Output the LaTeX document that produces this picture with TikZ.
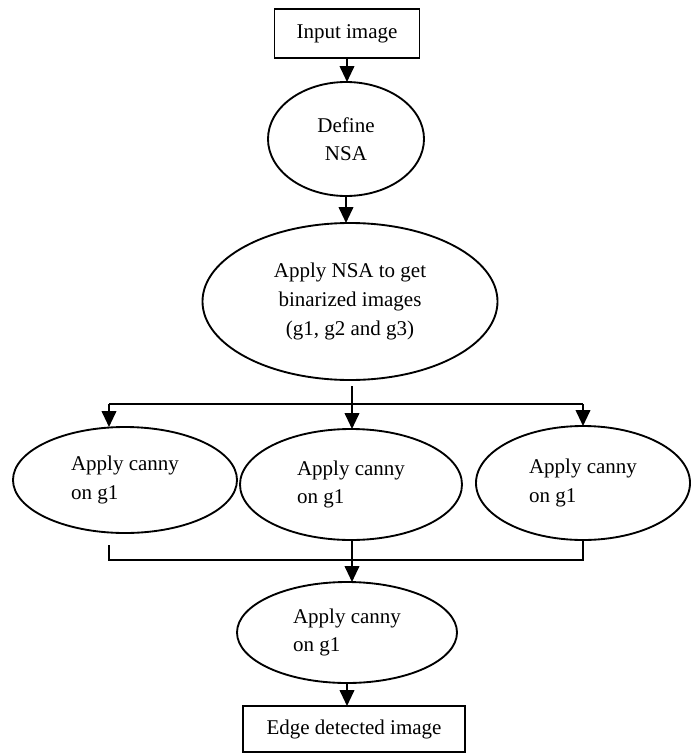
\documentclass[tikz,border=0pt]{standalone}
\usepackage{fontspec}
\setmainfont{Liberation Serif}
\usetikzlibrary{shapes.geometric,arrows.meta}
\begin{document}
\begin{tikzpicture}[x=0.75pt,y=-0.75pt,
  every node/.style={font=\fontsize{15.75pt}{21.4pt}\selectfont, inner sep=0pt, outer sep=0pt},
  box/.style={draw, line width=1.4pt, rectangle},
  oval/.style={draw, line width=1.4pt, ellipse},
  conn/.style={line width=1.4pt},
  arr/.style={conn, -{Triangle[width=11pt,length=12pt]}}]
\useasboundingbox (0,0) rectangle (693,753);
\fill[white] (0,0) rectangle (693,753);
% nodes
\node[box, minimum width=108.75pt, minimum height=36.75pt] (inp) at (347,33.5) {Input image};
\node[oval, minimum width=117pt, minimum height=85.5pt, align=center] (def) at (346,139) {Define\\NSA};
\node[oval, minimum width=221.25pt, minimum height=117.75pt, align=center] (big) at (350,301.5) {Apply NSA to get\\binarized images\\(g1, g2 and g3)};
\node[oval, minimum width=168pt, minimum height=79.5pt, align=left] (left) at (125,480) {Apply canny\\on g1};
\node[oval, minimum width=166.5pt, minimum height=83.25pt, align=left] (mid) at (351,484.5) {Apply canny\\on g1};
\node[oval, minimum width=160.5pt, minimum height=85.5pt, align=left] (right) at (583,483) {Apply canny\\on g1};
\node[oval, minimum width=165pt, minimum height=75.75pt, align=left] (bot) at (347,632.5) {Apply canny\\on g1};
\node[box, minimum width=166.5pt, minimum height=34.5pt] (edge) at (354,729) {Edge detected image};
% junction coordinates
\coordinate (sm) at (352,404);
\coordinate (s1) at (109,404);
\coordinate (s2) at (583,404);
\coordinate (t1) at (109,545);
\coordinate (j1) at (109,560);
\coordinate (j2) at (583,560);
% connectors
\draw[arr] (inp.south) -- (inp.south |- def.north);
\draw[arr] (def.south) -- (def.south |- big.north);
\draw[conn, shorten <=4.5pt] (sm |- big.south) -- (sm);
\draw[conn] (s1) -- (s2);
\draw[arr] (s1) -- (s1 |- left.north);
\draw[arr] (sm) -- (sm |- mid.north);
\draw[arr] (s2) -- (s2 |- right.north);
\draw[conn] (t1) -- (j1) -- (j2) -- (right.south);
\draw[arr] (sm |- mid.south) -- (sm |- bot.north);
\draw[arr] (bot.south) -- (bot.south |- edge.north);
\end{tikzpicture}
\end{document}
